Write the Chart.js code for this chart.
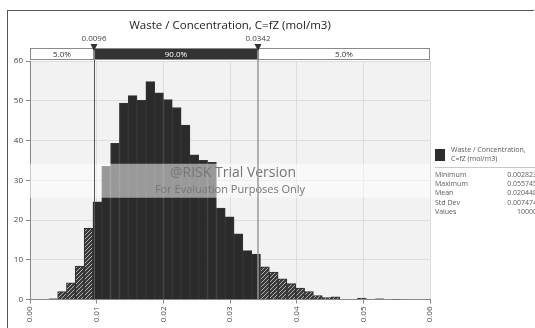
<!DOCTYPE html>
<html>
<head>
<meta charset="utf-8">
<script src="https://cdn.jsdelivr.net/npm/chart.js@4.4.1/dist/chart.umd.min.js"></script>
<style>
  html, body { margin: 0; padding: 0; background: #fff; }
  #wrap { position: relative; width: 535px; height: 328px; overflow: hidden; font-family: "Open Sans", sans-serif; }
  #frame { position: absolute; left: 7px; top: 10px; width: 526px; height: 330px;
           border-top: 1px solid #555; border-left: 1px solid #555; }
  #hist { position: absolute; left: 0; top: 0; }
  #stats { position: absolute; left: 435px; top: 146px; width: 102px; color: #5a5a5a; font-size: 7px; }
  #stats .swatch { position: absolute; left: 0; top: 3px; width: 10px; height: 12px; background: #2d2d2d; }
  #stats .head { margin-left: 16px; line-height: 8.5px; height: 19px; }
  #stats .rule { border-top: 1px solid #c8c8c8; margin: 2px 0 2px 0; }
  #stats .row { display: flex; justify-content: space-between; height: 9.2px; line-height: 9.2px; }
</style>
</head>
<body>
<div id="wrap">
  <div id="frame"></div>
  <canvas id="hist" width="535" height="328"></canvas>
  <div id="stats"></div>
</div>
<script>
// histogram bins (centres) and density per bin
const binCenters = [
  0.00348, 0.00481, 0.00613, 0.00745, 0.00878, 0.01010, 0.01142, 0.01275, 0.01407, 0.01539,
  0.01672, 0.01804, 0.01936, 0.02068, 0.02201, 0.02333, 0.02465, 0.02598, 0.02730, 0.02862,
  0.02995, 0.03127, 0.03259, 0.03391, 0.03524, 0.03656, 0.03788, 0.03921, 0.04053, 0.04185,
  0.04318, 0.04450, 0.04582, 0.04715, 0.04847, 0.04979, 0.05111, 0.05244, 0.05376, 0.05508
];
const density = [
  0.15, 2.0, 4.2, 8.4, 17.9, 24.6, 33.5, 39.3, 49.4, 51.3,
  50.1, 54.8, 52.0, 50.3, 48.3, 43.9, 36.4, 35.0, 34.5, 23.0,
  20.8, 16.5, 12.3, 11.4, 8.2, 6.9, 5.2, 4.0, 2.9, 2.0,
  1.0, 0.5, 0.7, 0, 0, 0.35, 0, 0.15, 0, 0.08
];

// delimiters (5% / 90% / 5%)
const leftCut = 0.0096;
const rightCut = 0.0342;
const bandLabels = ['5.0%', '90.0%', '5.0%'];

const xTicks = [0, 0.01, 0.02, 0.03, 0.04, 0.05, 0.06];
const yTicks = [0, 10, 20, 30, 40, 50, 60];

const statLabels = ['Minimum', 'Maximum', 'Mean', 'Std Dev', 'Values'];
const statValues = ['0.002823', '0.055745', '0.020448', '0.007474', '10000'];

const seriesName = 'Waste / Concentration, C=fZ (mol/m3)';

const FONT = '"Open Sans", sans-serif';

// stats panel
const stats = document.getElementById('stats');
stats.innerHTML =
  '<div class="swatch"></div><div class="head">Waste / Concentration,<br>C=fZ (mol/m3)</div><div class="rule"></div>' +
  statLabels.map((l, i) => `<div class="row"><span>${l}</span><span>${statValues[i]}</span></div>`).join('');

function hatch() {
  const c = document.createElement('canvas');
  c.width = 4; c.height = 4;
  const g = c.getContext('2d');
  g.fillStyle = '#3a3a3a';
  g.fillRect(0, 0, 4, 4);
  g.strokeStyle = '#b0b0b0';
  g.lineWidth = 1;
  g.beginPath();
  g.moveTo(0, 4); g.lineTo(4, 0);
  g.moveTo(-1, 1); g.lineTo(1, -1);
  g.moveTo(3, 5); g.lineTo(5, 3);
  g.stroke();
  return g.createPattern(c, 'repeat');
}
const hatchFill = hatch();

const isTail = (x) => x < leftCut || x > rightCut;

const overlay = {
  id: 'overlay',
  beforeDraw(chart) {
    const { ctx, chartArea: a } = chart;
    ctx.save();
    ctx.fillStyle = '#f2f2f2';
    ctx.fillRect(a.left, a.top, a.right - a.left, a.bottom - a.top);
    ctx.restore();
  },
  afterDatasetsDraw(chart) {
    const { ctx, chartArea: a, scales } = chart;
    const xL = scales.x.getPixelForValue(leftCut);
    const xR = scales.x.getPixelForValue(rightCut);
    const mid = (a.top + a.bottom) / 2;
    const cx = (a.left + a.right) / 2;
    ctx.save();

    // title
    ctx.fillStyle = '#222';
    ctx.textAlign = 'center';
    ctx.textBaseline = 'middle';
    ctx.font = '11.5px ' + FONT;
    ctx.fillText(seriesName, cx, a.top - 35);

    // trial watermark strip
    ctx.fillStyle = 'rgba(255,255,255,0.52)';
    ctx.fillRect(a.left, mid - 16.5, a.right - a.left, 34);
    ctx.fillStyle = '#767676';
    ctx.font = '14px ' + FONT;
    ctx.fillText('@RISK Trial Version', cx + 3, mid - 7);
    ctx.font = '11px ' + FONT;
    ctx.fillText('For Evaluation Purposes Only', cx, mid + 9.5);

    // delimiter lines
    ctx.strokeStyle = '#555';
    ctx.lineWidth = 1;
    ctx.beginPath();
    ctx.moveTo(Math.round(xL) + 0.5, a.top - 13);
    ctx.lineTo(Math.round(xL) + 0.5, a.bottom);
    ctx.stroke();
    ctx.strokeStyle = '#9a9a9a';
    ctx.lineWidth = 1.5;
    ctx.beginPath();
    ctx.moveTo(xR, a.top - 13);
    ctx.lineTo(xR, a.bottom);
    ctx.stroke();

    // percentage bar above the plot
    const top = a.top - 13, h = 12;
    const segs = [[a.left, xL, '#fff', '#333'], [xL, xR, '#333', '#fff'], [xR, a.right, '#fff', '#333']];
    ctx.font = '8px ' + FONT;
    segs.forEach(([l, r, fill, txt], i) => {
      ctx.fillStyle = fill;
      ctx.fillRect(l, top, r - l, h);
      ctx.strokeStyle = '#8a8a8a';
      ctx.lineWidth = 1;
      ctx.strokeRect(l + 0.5, top + 0.5, r - l - 1, h - 1);
      ctx.fillStyle = txt;
      ctx.fillText(bandLabels[i], (l + r) / 2, top + h / 2 + 0.5);
    });

    // markers and delimiter values
    [[xL, leftCut], [xR, rightCut]].forEach(([px, v]) => {
      ctx.fillStyle = '#333';
      ctx.beginPath();
      ctx.moveTo(px - 3.5, top - 4);
      ctx.lineTo(px + 3.5, top - 4);
      ctx.lineTo(px, top + 3);
      ctx.closePath();
      ctx.fill();
      ctx.fillStyle = '#444';
      ctx.font = '8px ' + FONT;
      ctx.fillText(v.toFixed(4), px, top - 9);
    });
    ctx.restore();
  }
};

new Chart(document.getElementById('hist'), {
  type: 'bar',
  data: {
    datasets: [{
      label: seriesName,
      data: binCenters.map((x, i) => ({ x, y: density[i] })),
      backgroundColor: (c) => (c.raw && isTail(c.raw.x) ? hatchFill : '#2b2b2b'),
      borderColor: (c) => (c.raw && isTail(c.raw.x) ? '#2e2e2e' : '#363636'),
      borderWidth: 1,
      barPercentage: 1,
      categoryPercentage: 1
    }]
  },
  options: {
    responsive: false,
    animation: false,
    layout: { padding: { left: 0, right: 105, top: 61, bottom: 0 } },
    plugins: {
      legend: { display: false },
      tooltip: { enabled: false },
      title: { display: false }
    },
    scales: {
      x: {
        type: 'linear',
        offset: false,
        min: xTicks[0],
        max: xTicks[xTicks.length - 1],
        afterBuildTicks: (s) => { s.ticks = xTicks.map((v) => ({ value: v })); },
        afterFit: (s) => { s.height = 28.5; },
        grid: { offset: false, color: '#dcdcdc', tickColor: '#888', tickLength: 4 },
        border: { color: '#888' },
        ticks: {
          autoSkip: false,
          minRotation: 90,
          maxRotation: 90,
          padding: 3,
          color: '#444',
          font: { family: FONT, size: 8 },
          callback: (v) => Number(v).toFixed(2)
        }
      },
      y: {
        min: yTicks[0],
        max: yTicks[yTicks.length - 1],
        afterBuildTicks: (s) => { s.ticks = yTicks.map((v) => ({ value: v })); },
        afterFit: (s) => { s.width = 30; },
        grid: { color: '#dcdcdc', tickColor: '#888', tickLength: 4 },
        border: { color: '#888' },
        ticks: { padding: 3, color: '#444', font: { family: FONT, size: 8 } }
      }
    }
  },
  plugins: [overlay]
});
</script>
</body>
</html>
